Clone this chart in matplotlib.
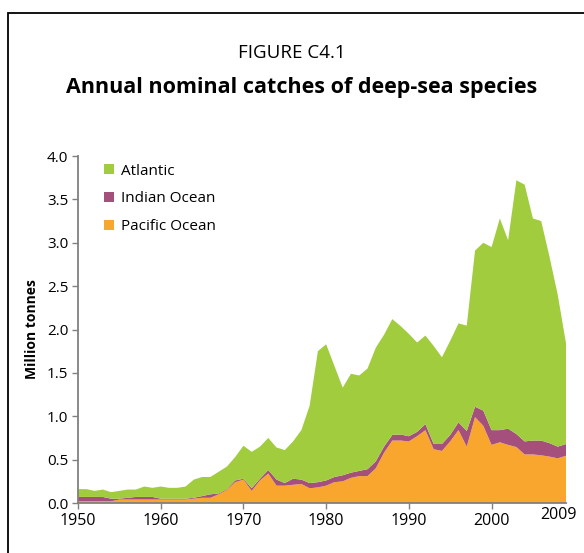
import numpy as np
import matplotlib
matplotlib.use('Agg')
import matplotlib.pyplot as plt
import matplotlib.transforms as mtransforms
from matplotlib.patches import Rectangle

# Annual nominal catches of deep-sea species (million tonnes)
years = list(range(1950, 2010))

pacific = [0.02, 0.02, 0.02, 0.02, 0.02, 0.04, 0.04, 0.04, 0.04, 0.04,
           0.04, 0.04, 0.04, 0.04, 0.05, 0.06, 0.06, 0.10, 0.15, 0.24,
           0.27, 0.14, 0.26, 0.34, 0.20, 0.20, 0.21, 0.22, 0.17, 0.18,
           0.20, 0.24, 0.25, 0.29, 0.31, 0.31, 0.40, 0.58, 0.72, 0.72,
           0.71, 0.77, 0.84, 0.62, 0.60, 0.71, 0.84, 0.65, 0.99, 0.89,
           0.67, 0.70, 0.67, 0.645, 0.56, 0.56, 0.55, 0.535, 0.515, 0.545]

indian = [0.05, 0.05, 0.05, 0.05, 0.03, 0.01, 0.02, 0.03, 0.03, 0.03,
          0.01, 0.01, 0.01, 0.01, 0.01, 0.02, 0.04, 0.01, 0.01, 0.02,
          0.01, 0.03, 0.02, 0.04, 0.07, 0.03, 0.07, 0.05, 0.06, 0.06,
          0.06, 0.06, 0.07, 0.06, 0.06, 0.08, 0.08, 0.07, 0.065, 0.07,
          0.06, 0.05, 0.07, 0.06, 0.08, 0.075, 0.09, 0.18, 0.12, 0.175,
          0.17, 0.14, 0.187, 0.15, 0.15, 0.16, 0.17, 0.155, 0.135, 0.135]

atlantic = [0.09, 0.09, 0.07, 0.085, 0.075, 0.09, 0.095, 0.085, 0.12, 0.105,
            0.14, 0.125, 0.125, 0.14, 0.21, 0.22, 0.20, 0.25, 0.26, 0.27,
            0.38, 0.42, 0.37, 0.37, 0.37, 0.38, 0.43, 0.57, 0.89, 1.51,
            1.57, 1.28, 1.01, 1.14, 1.10, 1.16, 1.31, 1.29, 1.335, 1.25,
            1.18, 1.03, 1.02, 1.13, 1.00, 1.085, 1.14, 1.215, 1.80, 1.935,
            2.11, 2.44, 2.173, 2.925, 2.96, 2.56, 2.53, 2.15, 1.75, 1.16]

labels = ['Pacific Ocean', 'Indian Ocean', 'Atlantic']
colors = ['#F9A62E', '#A5507C', '#A1CC3E']

xticks = [1950, 1960, 1970, 1980, 1990, 2000, 2009]
yticks = [0.0, 0.5, 1.0, 1.5, 2.0, 2.5, 3.0, 3.5, 4.0]

plt.rcParams['font.family'] = ['Open Sans', 'DejaVu Sans']

fig = plt.figure(figsize=(5.84, 5.53), dpi=100)
ax = fig.add_axes([0.1336, 0.0904, 0.8356, 0.6275])

ax.stackplot(years, pacific, indian, atlantic, colors=colors,
             labels=labels, linewidth=0)

ax.set_xlim(1950, 2009)
ax.set_ylim(0, 4.0)
ax.set_xticks(xticks[:-1])
ax.set_xticklabels([str(y) for y in xticks[:-1]], fontsize=11.5)
ax.set_yticks(yticks)
ax.set_yticklabels(['%.1f' % v for v in yticks], fontsize=11)
ax.tick_params(axis='both', color='#808080', length=4, width=1, pad=3)

# the last year label sits a little left and higher than the others
ax.text(xticks[-1], 0, str(xticks[-1]), fontsize=11.5, ha='center', va='top',
        transform=ax.get_xaxis_transform() + mtransforms.ScaledTranslation(
            -8 / 100, -4 / 100, fig.dpi_scale_trans))

for side in ['top', 'right']:
    ax.spines[side].set_visible(False)
ax.spines['left'].set_color('#808080')
ax.spines['bottom'].set_color('#808080')
ax.spines['left'].set_linewidth(1.3)
ax.spines['bottom'].set_linewidth(1.3)

ax.set_ylabel('Million tonnes', fontsize=10, fontweight='bold', labelpad=6)

handles, labs = ax.get_legend_handles_labels()
ax.legend(handles[::-1], labs[::-1], loc='upper left', frameon=False,
          fontsize=11, handlelength=0.65, handleheight=0.65,
          handletextpad=0.45, labelspacing=0.85,
          bbox_to_anchor=(0.025, 1.018))

fig.text(0.5, 0.905, 'FIGURE C4.1', ha='center', va='center', fontsize=13.5)
fig.text(0.517, 0.842, 'Annual nominal catches of deep-sea species',
         ha='center', va='center', fontsize=15.5, fontweight='bold')

# outer frame around the figure
fig.patches.append(Rectangle((8 / 584, -0.05), 1.0, 1 - 13 / 553 + 0.05,
                             transform=fig.transFigure, fill=False,
                             edgecolor='black', linewidth=1.3))

fig.savefig('out.png', dpi=100)
